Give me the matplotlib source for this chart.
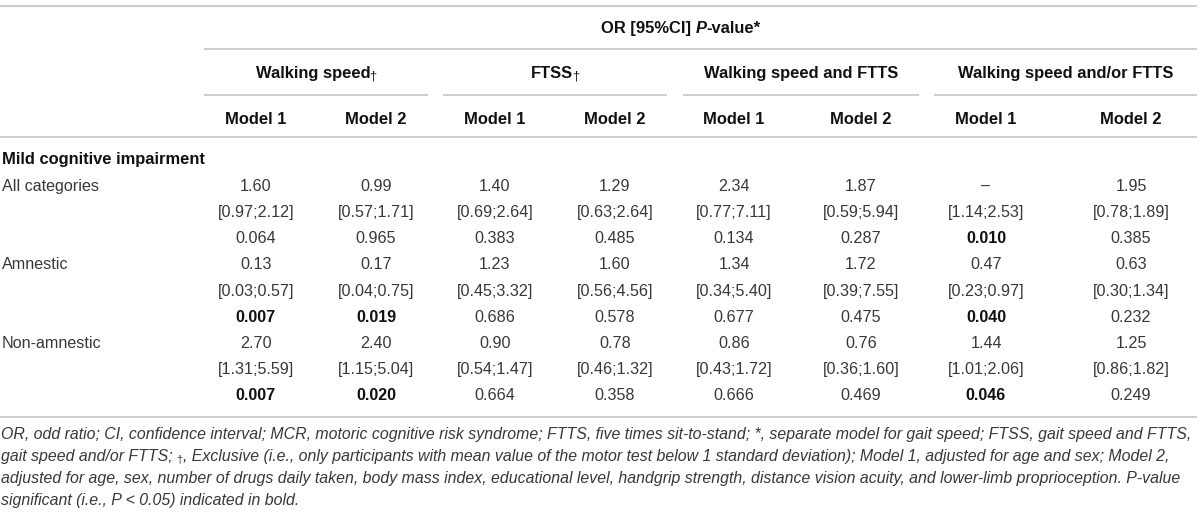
import matplotlib
matplotlib.use("Agg")
import matplotlib.pyplot as plt

# ---------------- data ----------------
header_title = "OR [95%CI] P-value*"
groups = ["Walking speed", "FTSS", "Walking speed and FTTS", "Walking speed and/or FTTS"]
group_dagger = [True, True, False, False]
models = ["Model 1", "Model 2"]
section_title = "Mild cognitive impairment"
categories = ["All categories", "Amnestic", "Non-amnestic"]

# columns: WS M1, WS M2, FTSS M1, FTSS M2, WS&FTTS M1, WS&FTTS M2, WS/FTTS M1, WS/FTTS M2
or_all = [1.60, 0.99, 1.40, 1.29, 2.34, 1.87, None, 1.95]
ci_low_all = [0.97, 0.57, 0.69, 0.63, 0.77, 0.59, 1.14, 0.78]
ci_high_all = [2.12, 1.71, 2.64, 2.64, 7.11, 5.94, 2.53, 1.89]
p_all = [0.064, 0.965, 0.383, 0.485, 0.134, 0.287, 0.010, 0.385]

or_amn = [0.13, 0.17, 1.23, 1.60, 1.34, 1.72, 0.47, 0.63]
ci_low_amn = [0.03, 0.04, 0.45, 0.56, 0.34, 0.39, 0.23, 0.30]
ci_high_amn = [0.57, 0.75, 3.32, 4.56, 5.40, 7.55, 0.97, 1.34]
p_amn = [0.007, 0.019, 0.686, 0.578, 0.677, 0.475, 0.040, 0.232]

or_non = [2.70, 2.40, 0.90, 0.78, 0.86, 0.76, 1.44, 1.25]
ci_low_non = [1.31, 1.15, 0.54, 0.46, 0.43, 0.36, 1.01, 0.86]
ci_high_non = [5.59, 5.04, 1.47, 1.32, 1.72, 1.60, 2.06, 1.82]
p_non = [0.007, 0.020, 0.664, 0.358, 0.666, 0.469, 0.046, 0.249]

or_values = [or_all, or_amn, or_non]
ci_lows = [ci_low_all, ci_low_amn, ci_low_non]
ci_highs = [ci_high_all, ci_high_amn, ci_high_non]
p_values = [p_all, p_amn, p_non]
alpha = 0.05

footnote_lines = [
    "OR, odd ratio; CI, confidence interval; MCR, motoric cognitive risk syndrome; FTTS, five times sit-to-stand; *, separate model for gait speed; FTSS, gait speed and FTTS,",
    ["gait speed and/or FTTS;", "\u2020", ", Exclusive (i.e., only participants with mean value of the motor test below 1 standard deviation); Model 1, adjusted for age and sex; Model 2,"],
    "adjusted for age, sex, number of drugs daily taken, body mass index, educational level, handgrip strength, distance vision acuity, and lower-limb proprioception. P-value",
    "significant (i.e., P < 0.05) indicated in bold.",
]

# ---------------- layout ----------------
W, H = 1200, 512
FONT = "Liberation Sans"
FS = 11.6
FS_HEAD = 11.9
FS_FOOT = 11.42
TXT = "#383838"
BOLD = "#111111"
RULE = "#cfcfcf"

col_x = [256, 376, 495, 615, 734, 861, 986, 1131]
group_spans = [(204, 428), (443, 667), (683, 919), (934, 1197)]

fig = plt.figure(figsize=(W / 100, H / 100), dpi=100)
ax = fig.add_axes([0, 0, 1, 1])
ax.set_xlim(0, W)
ax.set_ylim(H, 0)
ax.axis("off")
renderer = fig.canvas.get_renderer()


def base(yc, fs=FS):
    return yc + fs * 100 / 72 * 0.716 / 2


def runs(x, y, parts, ha="left"):
    """parts: list of (text, props, dy)."""
    texts, widths = [], []
    for s, kw, dy in parts:
        if s == "":
            texts.append(None)
            widths.append(kw["gap"])
            continue
        t = ax.text(0, y + dy, s, va="baseline", ha="left", family=FONT, **kw)
        texts.append(t)
        widths.append(t.get_window_extent(renderer).width)
    total = sum(widths)
    cur = x - total / 2 if ha == "center" else x
    for t, w in zip(texts, widths):
        if t is not None:
            t.set_x(cur)
        cur += w


def hline(y, x0, x1):
    ax.plot([x0, x1], [y, y], color=RULE, lw=1.5, solid_capstyle="butt")


# rules
hline(6, 0, 1197)
hline(49, 204, 1197)
for x0, x1 in group_spans:
    hline(95, x0, x1)
hline(137, 0, 1197)
hline(417, 0, 1197)

# header title
hb = dict(fontsize=FS_HEAD, fontweight="bold", color=BOLD)
runs(681, base(27, FS_HEAD), [("OR [95%CI]", hb, 0), ("", {"gap": 4}, 0),
                              ("P", dict(hb, fontstyle="italic"), 0), ("-value*", hb, 0)],
     ha="center")

# group titles
for (x0, x1), g, dag in zip(group_spans, groups, group_dagger):
    cx = (x0 + x1) / 2
    parts = [(g, hb, 0)]
    if dag:
        parts.append(("", {"gap": -1}, 0))
        parts.append(("\u2020", dict(fontsize=FS_HEAD * 0.78, color=BOLD), 2))
    runs(cx, base(72, FS_HEAD), parts, ha="center")

# model headers
for i, x in enumerate(col_x):
    ax.text(x, base(118, FS_HEAD), models[i % 2], ha="center", va="baseline",
            family=FONT, **hb)

# section title
ax.text(2, base(158, FS_HEAD), section_title, ha="left", va="baseline", family=FONT, **hb)

# body
row0, dy = 185, 26.2
for ci, cat in enumerate(categories):
    y_or = row0 + dy * 3 * ci
    ax.text(2, base(y_or), cat, ha="left", va="baseline", family=FONT,
            fontsize=FS, color=TXT)
    for j, x in enumerate(col_x):
        o = or_values[ci][j]
        s_or = "\u2013" if o is None else f"{o:.2f}"
        ax.text(x, base(y_or), s_or, ha="center", va="baseline", family=FONT,
                fontsize=FS, color=TXT)
        ax.text(x, base(y_or + dy), f"[{ci_lows[ci][j]:.2f};{ci_highs[ci][j]:.2f}]",
                ha="center", va="baseline", family=FONT, fontsize=FS, color=TXT)
        p = p_values[ci][j]
        sig = p < alpha
        ax.text(x, base(y_or + 2 * dy), f"{p:.3f}", ha="center", va="baseline",
                family=FONT, fontsize=FS, color=BOLD if sig else TXT,
                fontweight="bold" if sig else "normal")

# footnote
fi = dict(fontsize=FS_FOOT, fontstyle="italic", color=TXT)
foot_y = [433, 455, 477, 499]
for line, yc in zip(footnote_lines, foot_y):
    if isinstance(line, str):
        runs(1, base(yc, FS_FOOT), [(line, fi, 0)])
    else:
        runs(1, base(yc, FS_FOOT), [(line[0], fi, 0), ("", {"gap": 4}, 0),
                                    (line[1], dict(fontsize=FS_FOOT * 0.72, color=TXT), 2),
                                    (line[2], fi, 0)])

fig.savefig("out.png", dpi=100)
